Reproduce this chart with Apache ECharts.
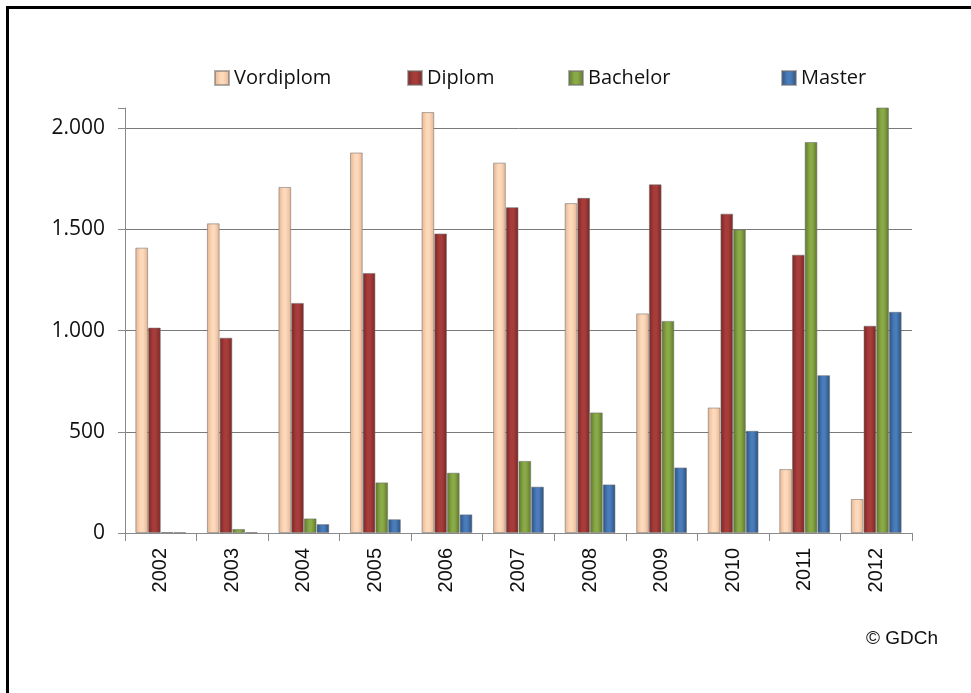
<!DOCTYPE html>
<html>
<head>
<meta charset="utf-8">
<script src="https://cdn.jsdelivr.net/npm/echarts@6/dist/echarts.min.js"></script>
<style>
  html, body { margin: 0; padding: 0; background: #fff; }
  #chart { width: 971px; height: 693px; }
</style>
</head>
<body>
<div id="chart"></div>
<script>
var years = ['2002', '2003', '2004', '2005', '2006', '2007', '2008', '2009', '2010', '2011', '2012'];
var vordiplom = [1410, 1530, 1710, 1880, 2080, 1830, 1630, 1085, 620, 316, 168];
var diplom = [1015, 965, 1137, 1285, 1480, 1610, 1656, 1723, 1578, 1375, 1024];
var bachelor = [5, 20, 72, 250, 298, 356, 596, 1048, 1500, 1932, 2350];
var master = [3, 4, 44, 68, 92, 229, 240, 324, 505, 780, 1093];
var yTicks = [0, 500, 1000, 1500, 2000];

// zylinder-look: dunkle Kanten, helle Mitte
function cyl(edge, mid) {
  return new echarts.graphic.LinearGradient(0, 0, 1, 0, [
    { offset: 0, color: edge },
    { offset: 0.4, color: mid },
    { offset: 0.6, color: mid },
    { offset: 1, color: edge }
  ]);
}

function fmt(v) {
  return String(v).replace(/\B(?=(\d{3})+(?!\d))/g, '.');
}

var font = '"Open Sans", sans-serif';

var chart = echarts.init(document.getElementById('chart'), null, { renderer: 'canvas' });

function bar(name, data, edge, mid) {
  return {
    name: name,
    type: 'bar',
    data: data,
    barWidth: 12.7,
    barGap: '0%',
    clip: true,
    itemStyle: {
      color: cyl(edge, mid),
      borderColor: 'rgba(110,110,110,0.55)',
      borderWidth: 1
    }
  };
}

function leg(name, left) {
  return {
    data: [name],
    left: left,
    top: 63,
    icon: 'rect',
    itemWidth: 14,
    itemHeight: 14,
    itemGap: 5,
    textStyle: { fontFamily: font, fontSize: 20, color: '#111' }
  };
}

chart.setOption({
  animation: false,
  backgroundColor: '#ffffff',
  legend: [
    leg('Vordiplom', 209),
    leg('Diplom', 402),
    leg('Bachelor', 563),
    leg('Master', 776)
  ],
  grid: { left: 125, right: 59, top: 108, bottom: 160 },
  xAxis: {
    type: 'category',
    data: years,
    axisLine: { lineStyle: { color: '#8a8a8a', width: 1 } },
    axisTick: { show: true, length: 8, lineStyle: { color: '#8a8a8a' } },
    axisLabel: {
      rotate: 90,
      margin: 15,
      fontFamily: '"Liberation Sans", Arial, sans-serif',
      fontSize: 20,
      color: '#111'
    }
  },
  yAxis: {
    type: 'value',
    min: 0,
    max: 2100,
    interval: 500,
    axisLine: { show: true, lineStyle: { color: '#8a8a8a', width: 1 } },
    axisTick: { show: true, length: 7, lineStyle: { color: '#8a8a8a' } },
    splitLine: {
      lineStyle: {
        color: ['#7a7a7a', '#7a7a7a', '#7a7a7a', '#7a7a7a', '#7a7a7a', 'rgba(0,0,0,0)'],
        width: 1
      }
    },
    axisLabel: {
      margin: 20,
      fontFamily: font,
      fontSize: 21,
      color: '#111',
      formatter: function (v) { return yTicks.indexOf(v) >= 0 ? fmt(v) : ''; }
    }
  },
  series: [
    bar('Vordiplom', vordiplom, '#e6b38f', '#fdd9bb'),
    bar('Diplom', diplom, '#7a2523', '#a73d3b'),
    bar('Bachelor', bachelor, '#5c7628', '#8aaa47'),
    bar('Master', master, '#27507f', '#4a7cba')
  ],
  graphic: [
    {
      type: 'rect',
      shape: { x: 7.5, y: 7.5, width: 1200, height: 1200 },
      style: { fill: null, stroke: '#000', lineWidth: 3 },
      silent: true
    },
    {
      type: 'text',
      left: 866,
      top: 629,
      style: {
        text: '\u00a9 GDCh',
        font: '19px "Liberation Sans", Arial, sans-serif',
        fill: '#111'
      }
    }
  ]
});
</script>
</body>
</html>
